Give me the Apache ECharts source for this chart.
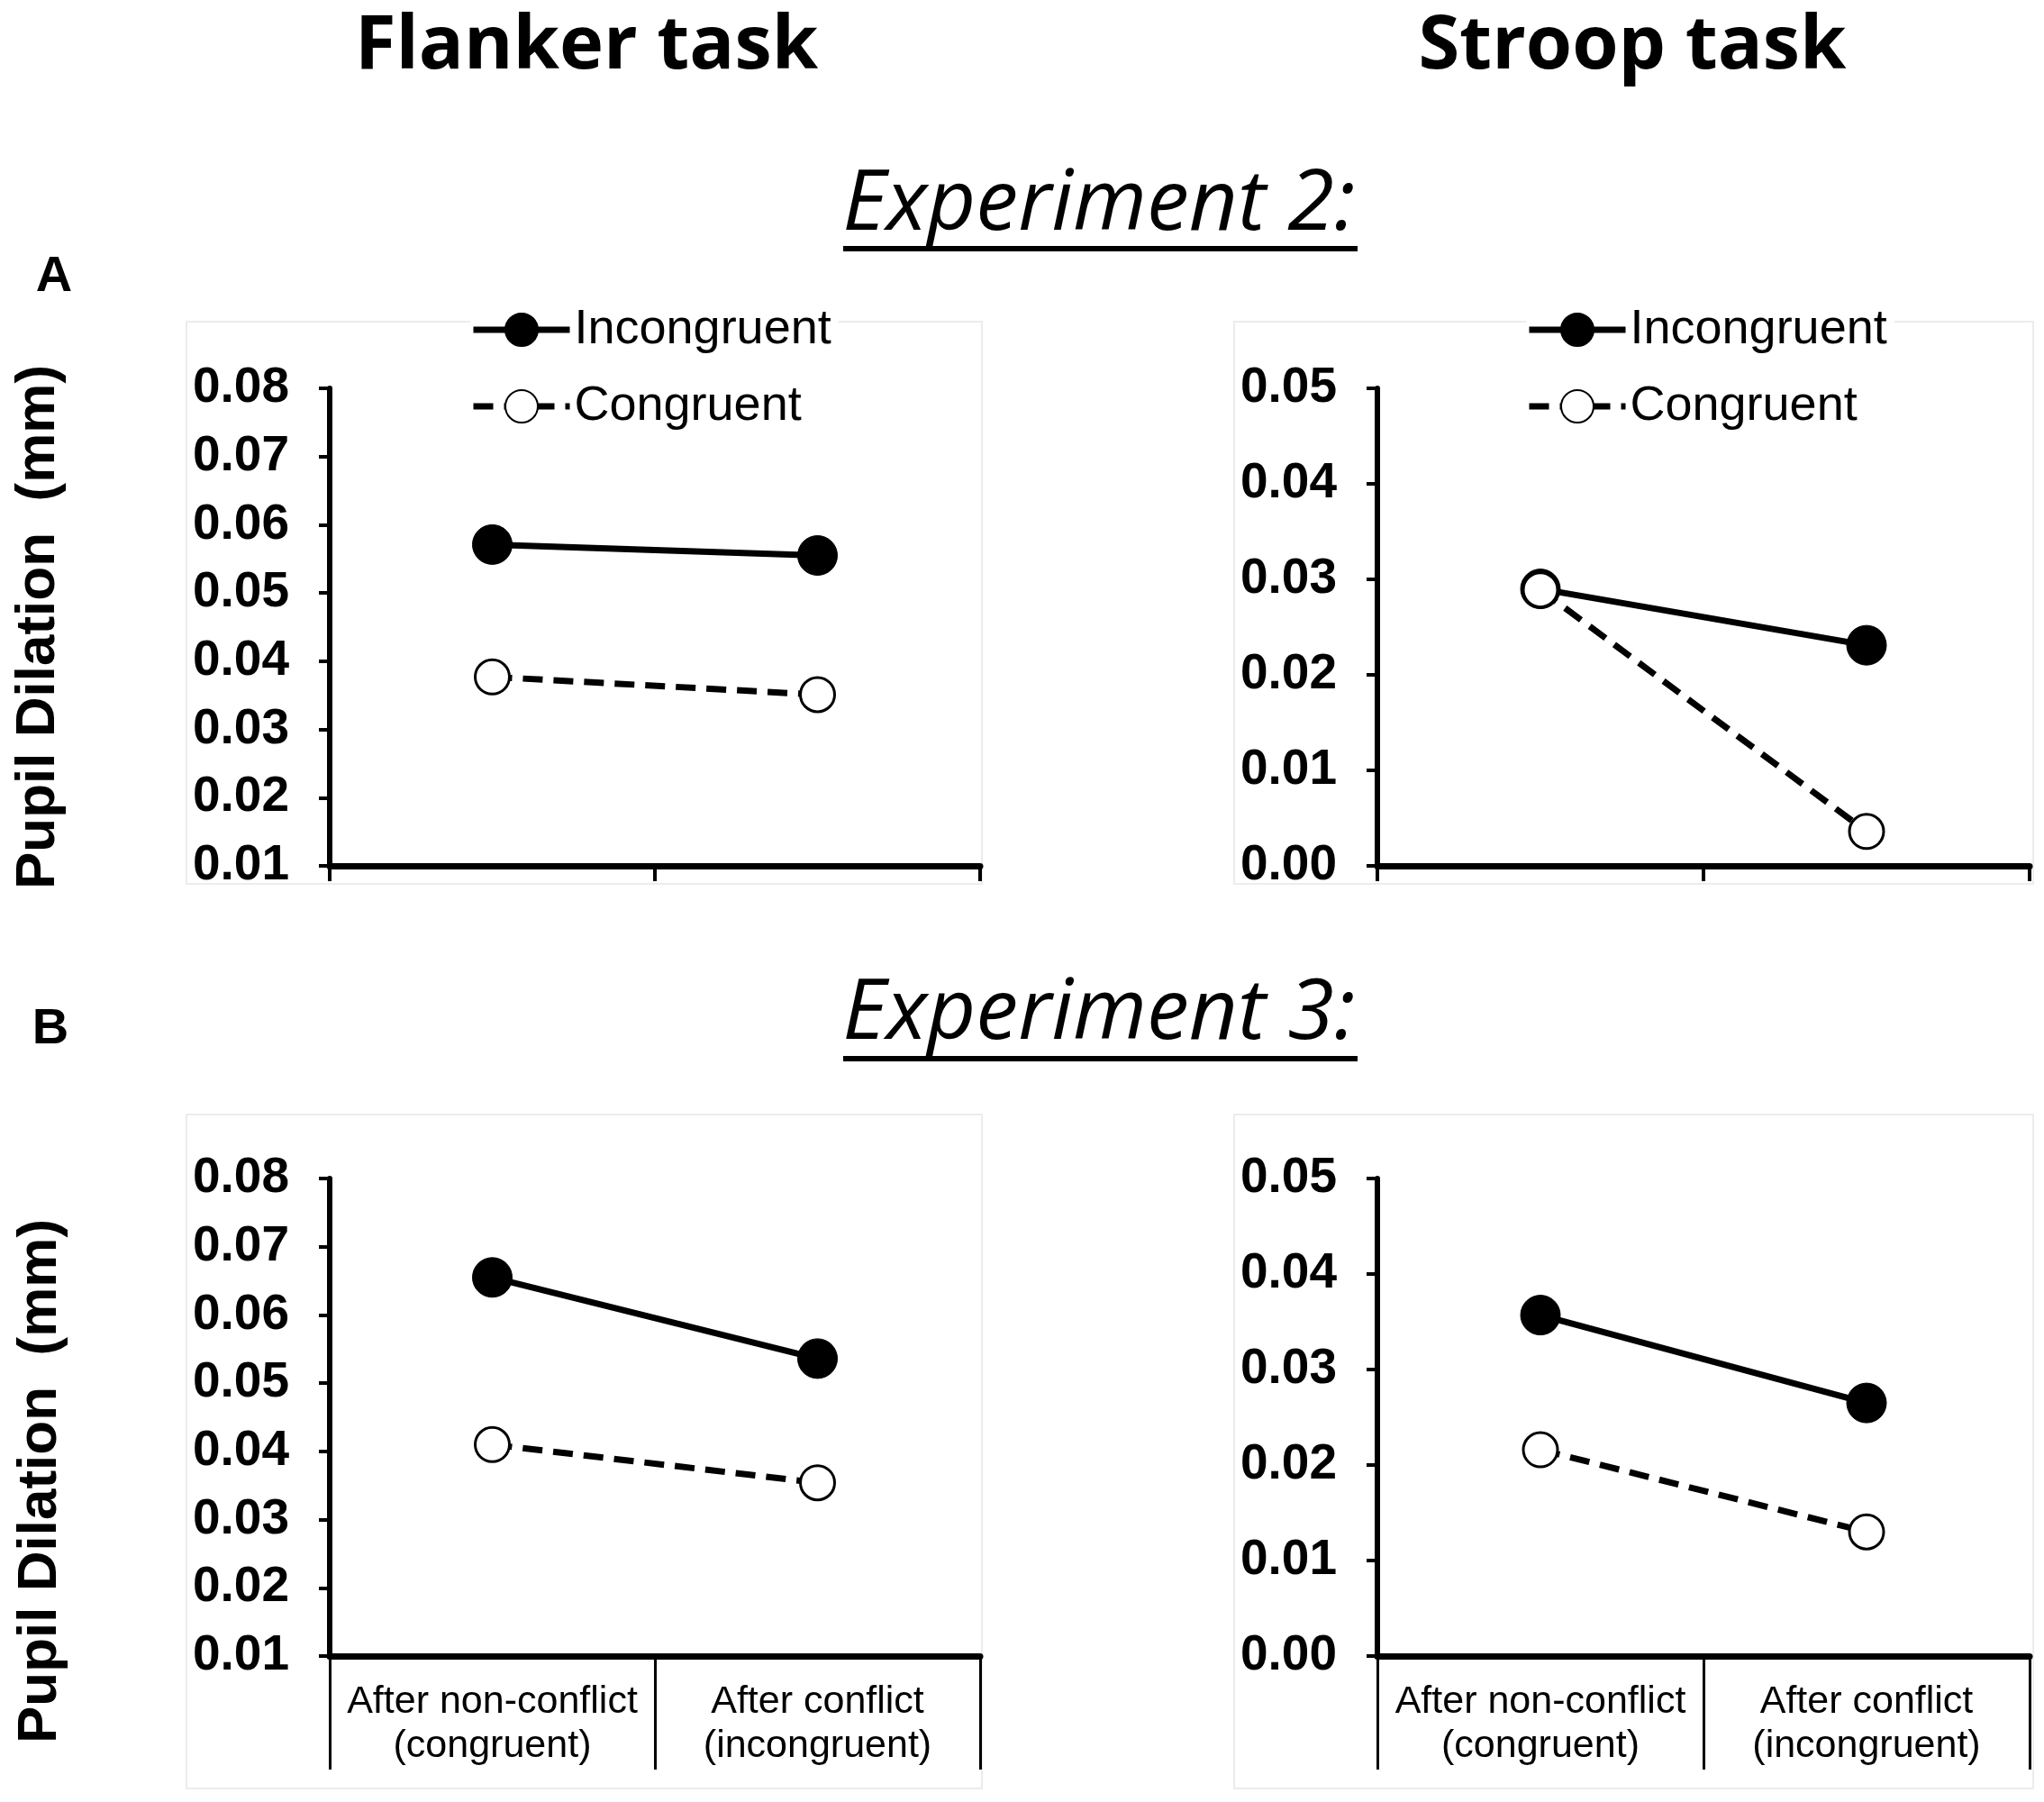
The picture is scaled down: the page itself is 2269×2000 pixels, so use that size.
<!DOCTYPE html>
<html>
<head>
<meta charset="utf-8">
<script src="https://cdn.jsdelivr.net/npm/echarts@6/dist/echarts.min.js"></script>
<style>
  html, body { margin: 0; padding: 0; background: #fff; }
  #chart { width: 2269px; height: 2000px; }
</style>
</head>
<body>
<div id="chart"></div>
<script>
// categories shared by all four panels
var categories = ['After non-conflict\n(congruent)', 'After conflict\n(incongruent)'];
var seriesNames = ['Incongruent', 'Congruent'];
var yTitle = 'Pupil Dilation  (mm)';

// Experiment 2 (row A)
var flanker2Incongruent = [0.0571, 0.0555];
var flanker2Congruent = [0.0377, 0.0351];
var stroop2Incongruent = [0.0290, 0.0231];
var stroop2Congruent = [0.0289, 0.0036];

// Experiment 3 (row B)
var flanker3Incongruent = [0.0655, 0.0536];
var flanker3Congruent = [0.0410, 0.0354];
var stroop3Incongruent = [0.0357, 0.0265];
var stroop3Congruent = [0.0216, 0.0130];

// y axis ranges
var flankerRange = { min: 0.01, max: 0.08 };
var stroopRange = { min: 0.00, max: 0.05 };

var FONT = 'Liberation Sans, Arial, sans-serif';
var TITLE_FONT = '"Open Sans", sans-serif';

var grids = [
  { left: 366, top: 431, width: 722, height: 530, outerBoundsMode: 'none' },
  { left: 1529, top: 431, width: 724, height: 530, outerBoundsMode: 'none' },
  { left: 366, top: 1308, width: 722, height: 530, outerBoundsMode: 'none' },
  { left: 1529, top: 1308, width: 724, height: 530, outerBoundsMode: 'none' }
];

function xAxisFor(i, withLabels) {
  return {
    type: 'category',
    gridIndex: i,
    data: categories,
    boundaryGap: true,
    axisLine: { lineStyle: { color: '#000', width: 7 } },
    axisTick: {
      show: true,
      interval: 0,
      alignWithLabel: false,
      length: withLabels ? 126 : 17,
      lineStyle: { color: '#000', width: withLabels ? 3 : 4 }
    },
    axisLabel: {
      show: withLabels,
      interval: 0,
      color: '#000',
      fontFamily: FONT,
      fontSize: 43,
      lineHeight: 49,
      margin: 27
    },
    splitLine: { show: false }
  };
}

function yAxisFor(i, range, named) {
  return {
    type: 'value',
    gridIndex: i,
    min: range.min,
    max: range.max,
    interval: 0.01,
    name: named ? yTitle : '',
    nameLocation: 'middle',
    nameGap: 292,
    nameTextStyle: { color: '#000', fontFamily: FONT, fontWeight: 'bold', fontSize: 62 },
    axisLine: { show: true, lineStyle: { color: '#000', width: 6 } },
    axisTick: { show: true, inside: false, length: 12, lineStyle: { color: '#000', width: 4 } },
    axisLabel: {
      color: '#000',
      fontFamily: FONT,
      fontWeight: 'bold',
      fontSize: 55,
      margin: 45,
      formatter: function (v) { return v.toFixed(2); }
    },
    splitLine: { show: false }
  };
}

function pair(i, inc, con) {
  return [
    {
      name: seriesNames[0],
      type: 'line',
      xAxisIndex: i,
      yAxisIndex: i,
      data: inc,
      symbol: 'circle',
      symbolSize: 44,
      lineStyle: { color: '#000', width: 7, type: 'solid' },
      itemStyle: { color: '#000', borderColor: '#000', borderWidth: 1 },
      z: 3
    },
    {
      name: seriesNames[1],
      type: 'line',
      xAxisIndex: i,
      yAxisIndex: i,
      data: con,
      symbol: 'circle',
      symbolSize: 38,
      lineStyle: { color: '#000', width: 7, type: [22, 12] },
      itemStyle: { color: '#fff', borderColor: '#000', borderWidth: 3 },
      z: 4
    }
  ];
}

function legendAt(left) {
  return {
    data: seriesNames,
    orient: 'vertical',
    left: left,
    top: 335,
    itemWidth: 107,
    itemHeight: 45,
    itemGap: 31,
    padding: [4, 8, 4, 0],
    backgroundColor: '#fff',
    selectedMode: false,
    lineStyle: { width: 7 },
    textStyle: { color: '#000', fontFamily: FONT, fontSize: 54 }
  };
}

function frame(x1, y1, x2, y2) {
  return {
    type: 'rect',
    shape: { x: x1, y: y1, width: x2 - x1, height: y2 - y1 },
    style: { fill: null, stroke: '#ececec', lineWidth: 2 },
    z: -10
  };
}

var chart = echarts.init(document.getElementById('chart'));

var option = {
  backgroundColor: '#fff',
  animation: false,
  grid: grids,
  xAxis: [xAxisFor(0, false), xAxisFor(1, false), xAxisFor(2, true), xAxisFor(3, true)],
  yAxis: [
    yAxisFor(0, flankerRange, true),
    yAxisFor(1, stroopRange, false),
    yAxisFor(2, flankerRange, false),
    yAxisFor(3, stroopRange, false)
  ],
  legend: [legendAt(522), legendAt(1694)],
  series: [].concat(
    pair(0, flanker2Incongruent, flanker2Congruent),
    pair(1, stroop2Incongruent, stroop2Congruent),
    pair(2, flanker3Incongruent, flanker3Congruent),
    pair(3, stroop3Incongruent, stroop3Congruent)
  ),
  graphic: [
    frame(207, 357, 1090, 981),
    frame(1370, 357, 2257, 981),
    frame(207, 1237, 1090, 1985),
    frame(1370, 1237, 2257, 1985),
    {
      type: 'text', x: 651, y: 52,
      style: { text: 'Flanker task', fill: '#000', font: 'bold 83px ' + TITLE_FONT, textAlign: 'center', textVerticalAlign: 'middle' }
    },
    {
      type: 'text', x: 1812, y: 52,
      style: { text: 'Stroop task', fill: '#000', font: 'bold 83px ' + TITLE_FONT, textAlign: 'center', textVerticalAlign: 'middle' }
    },
    {
      type: 'text', x: 1220, y: 228,
      style: { text: 'Experiment 2:', fill: '#000', font: 'italic 94px ' + TITLE_FONT, textAlign: 'center', textVerticalAlign: 'middle' }
    },
    {
      type: 'line', shape: { x1: 936, y1: 276, x2: 1507, y2: 276 },
      style: { stroke: '#000', lineWidth: 6 }
    },
    {
      type: 'text', x: 1220, y: 1126,
      style: { text: 'Experiment 3:', fill: '#000', font: 'italic 94px ' + TITLE_FONT, textAlign: 'center', textVerticalAlign: 'middle' }
    },
    {
      type: 'line', shape: { x1: 936, y1: 1175, x2: 1507, y2: 1175 },
      style: { stroke: '#000', lineWidth: 6 }
    },
    {
      // row B y title sits lower than its axis centre in the original
      type: 'text', x: 45, y: 1644, rotation: Math.PI / 2,
      style: { text: yTitle, fill: '#000', font: 'bold 62px ' + FONT, textAlign: 'center', textVerticalAlign: 'middle' }
    },
    {
      type: 'text', x: 60, y: 308,
      style: { text: 'A', fill: '#000', font: 'bold 56px ' + FONT, textAlign: 'center', textVerticalAlign: 'middle' }
    },
    {
      type: 'text', x: 56, y: 1143,
      style: { text: 'B', fill: '#000', font: 'bold 56px ' + FONT, textAlign: 'center', textVerticalAlign: 'middle' }
    }
  ]
};

chart.setOption(option);
</script>
</body>
</html>
